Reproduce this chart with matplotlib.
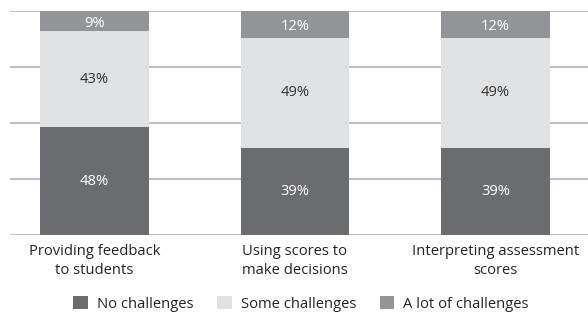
import matplotlib
matplotlib.use('Agg')
from matplotlib import pyplot as plt
import numpy as np

categories = ['Providing feedback\nto students', 'Using scores to\nmake decisions',
              'Interpreting assessment\nscores']
no_challenges = [48, 39, 39]
some_challenges = [43, 49, 49]
lot_challenges = [9, 12, 12]
series_names = ['No challenges', 'Some challenges', 'A lot of challenges']

# colours
c_dark = '#6b6c70'
c_light = '#e0e1e3'
c_mid = '#939497'

plt.rcParams['font.family'] = ['Open Sans', 'DejaVu Sans']
fs = 10.6

fig = plt.figure(figsize=(5.88, 3.17), dpi=100)
ax = fig.add_axes([10 / 588, 1 - 235 / 317, 1 - 10 / 588, 224 / 317])

x = np.arange(len(categories))
w = 0.542
b1 = ax.bar(x, no_challenges, w, color=c_dark, label=series_names[0], zorder=2)
b2 = ax.bar(x, some_challenges, w, bottom=no_challenges, color=c_light,
            label=series_names[1], zorder=2)
bottom3 = np.array(no_challenges) + np.array(some_challenges)
b3 = ax.bar(x, lot_challenges, w, bottom=bottom3, color=c_mid,
            label=series_names[2], zorder=2)

# value labels
for i in range(len(x)):
    ax.text(x[i], no_challenges[i] / 2, f'{no_challenges[i]}%', ha='center', va='center',
            color='white', fontsize=fs, zorder=3)
    ax.text(x[i], no_challenges[i] + some_challenges[i] / 2, f'{some_challenges[i]}%',
            ha='center', va='center', color='#333333', fontsize=fs, zorder=3)
    ax.text(x[i], bottom3[i] + lot_challenges[i] / 2 - 1, f'{lot_challenges[i]}%',
            ha='center', va='center', color='white', fontsize=fs, zorder=3)

ax.set_xlim(-0.42, 2.46)
ax.set_ylim(0, 100)
ax.set_yticks([0, 25, 50, 75, 100])
ax.yaxis.grid(True, color='#b4b4b4', linewidth=1.2, zorder=0)
ax.set_axisbelow(True)
for s in ax.spines.values():
    s.set_visible(False)
ax.tick_params(left=False, bottom=False, labelleft=False)
ax.set_xticks(x)
ax.set_xticklabels(categories, fontsize=fs, color='#222222', linespacing=1.35)
ax.tick_params(axis='x', pad=3)

fig.legend(handles=[b1, b2, b3], loc='center', bbox_to_anchor=(0.5 + 7 / 588, 1 - 304 / 317),
           ncol=3, frameon=False, fontsize=fs, handlelength=1.0, handleheight=1.0,
           handletextpad=0.6, columnspacing=1.6, labelcolor='#222222')

fig.savefig('out.png', dpi=100)
